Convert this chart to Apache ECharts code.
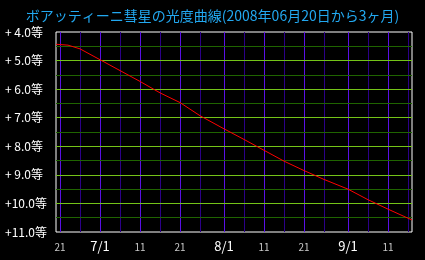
<!DOCTYPE html>
<html>
<head>
<meta charset="utf-8">
<script src="https://cdn.jsdelivr.net/npm/echarts@6/dist/echarts.min.js"></script>
<style>
html,body{margin:0;padding:0;background:#000;}
#c{width:425px;height:260px;}
</style>
</head>
<body>
<div id="c"></div>
<script>
// ---- data ----
const titleText = 'ボアッティーニ彗星の光度曲線(2008年06月20日から3ヶ月)';
// day categories 2008-06-20 .. 2008-09-17
const monthLengths = {6: 30, 7: 31, 8: 31, 9: 30};
const categories = [];
(function () {
  let m = 6, d = 20;
  for (let i = 0; i < 90; i++) {
    categories.push(m + '/' + d);
    d++;
    if (d > monthLengths[m]) { d = 1; m++; }
  }
})();
const majorGridDates = ['6/21', '7/1', '7/11', '7/21', '8/1', '8/11', '8/21', '9/1', '9/11'];
const minorGridDates = ['6/26', '7/6', '7/16', '7/26', '8/6', '8/16', '8/26', '9/6', '9/16'];
const xTickLabels = ['21', '7/1', '11', '21', '8/1', '11', '21', '9/1', '11'];
const yTickValues = [4, 5, 6, 7, 8, 9, 10, 11];
const yTickLabels = ['+ 4.0等', '+ 5.0等', '+ 6.0等', '+ 7.0等', '+ 8.0等', '+ 9.0等', '+10.0等', '+11.0等'];
const curveDates = ['6/20', '6/23', '6/26', '7/1', '7/6', '7/11', '7/16', '7/21', '7/26', '8/1',
                    '8/6', '8/11', '8/16', '8/21', '8/26', '9/1', '9/6', '9/11', '9/17'];
const curveMags = [4.43, 4.46, 4.59, 4.97, 5.35, 5.73, 6.13, 6.47, 6.93, 7.39,
                   7.76, 8.14, 8.52, 8.85, 9.16, 9.50, 9.87, 10.20, 10.58];

// ---- chart ----
const FONT = '"Noto Sans CJK JP", "Noto Sans", sans-serif';
const chart = echarts.init(document.getElementById('c'), null, {renderer: 'canvas'});
const majorSet = new Set(majorGridDates);
const minorSet = new Set(minorGridDates);
chart.setOption({
  backgroundColor: '#000',
  animation: false,
  title: {
    text: titleText,
    left: 'center',
    top: 4,
    textStyle: {color: '#22a8f0', fontSize: 14, fontWeight: 'normal', fontFamily: FONT}
  },
  grid: {
    left: 56, right: 13, top: 32, bottom: 28,
    show: true, borderColor: '#ffffff', borderWidth: 1, backgroundColor: '#000'
  },
  xAxis: [{
    type: 'category',
    data: categories,
    boundaryGap: false,
    z: 1,
    axisLine: {show: false},
    axisTick: {show: false},
    axisLabel: {
      interval: (i, v) => majorSet.has(v),
      margin: 5,
      fontFamily: FONT,
      formatter: (v) => {
        const idx = majorGridDates.indexOf(v);
        if (idx < 0) return '';
        const t = xTickLabels[idx];
        return t.indexOf('/') >= 0 ? '{m|' + t + '}' : '{d|' + t + '}';
      },
      rich: {
        m: {color: '#ffffff', fontSize: 13, lineHeight: 16, verticalAlign: 'bottom', fontFamily: FONT},
        d: {color: '#c8c8c8', fontSize: 10, lineHeight: 16, verticalAlign: 'bottom', padding: [0, 0, 1, 0], fontFamily: FONT}
      }
    },
    splitLine: {
      show: true,
      interval: (i, v) => majorSet.has(v),
      lineStyle: {color: '#5a10e6', width: 1}
    }
  }, {
    type: 'category',
    data: categories,
    boundaryGap: false,
    position: 'bottom',
    z: 1,
    axisLine: {show: false},
    axisTick: {show: false},
    axisLabel: {show: false},
    splitLine: {
      show: true,
      interval: (i, v) => minorSet.has(v),
      lineStyle: {color: '#2c0088', width: 1}
    }
  }],
  yAxis: [{
    type: 'value',
    inverse: true,
    min: 4, max: 11, interval: 1,
    z: 3,
    axisLine: {show: false},
    axisTick: {show: false},
    axisLabel: {
      align: 'left',
      margin: 51,
      color: '#ffffff',
      fontSize: 12,
      fontFamily: FONT,
      formatter: (v) => {
        const idx = yTickValues.indexOf(v);
        return idx >= 0 ? yTickLabels[idx] : '';
      }
    },
    splitLine: {
      show: true,
      showMinLine: false,
      showMaxLine: false,
      lineStyle: {color: '#74c418', width: 1}
    }
  }, {
    type: 'value',
    inverse: true,
    min: 4, max: 11, interval: 0.5,
    position: 'left',
    z: 2,
    axisLine: {show: false},
    axisTick: {show: false},
    axisLabel: {show: false},
    splitLine: {
      show: true,
      showMinLine: false,
      showMaxLine: false,
      lineStyle: {color: '#1f6400', width: 1}
    }
  }],
  series: [{
    type: 'line',
    xAxisIndex: 0,
    yAxisIndex: 0,
    data: curveDates.map((d, i) => [d, curveMags[i]]),
    symbol: 'none',
    lineStyle: {color: '#ff0000', width: 1},
    z: 10
  }]
});
</script>
</body>
</html>
